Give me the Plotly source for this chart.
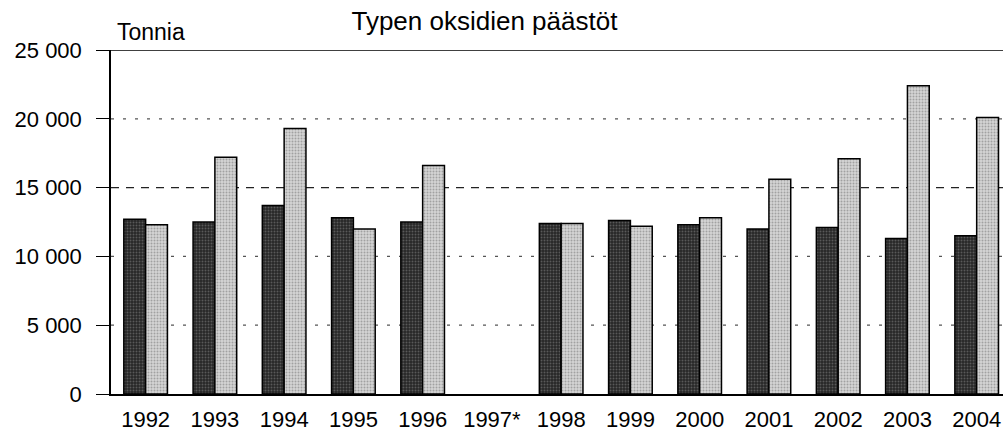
import plotly.graph_objects as go

# Nitrogen oxide emissions, tonnes per year (two source groups)
years = ["1992", "1993", "1994", "1995", "1996", "1997*", "1998",
         "1999", "2000", "2001", "2002", "2003", "2004"]
series_a = [12700, 12500, 13700, 12800, 12500, None, 12400,
            12600, 12300, 12000, 12100, 11300, 11500]
series_b = [12300, 17200, 19300, 12000, 16600, None, 12400,
            12200, 12800, 15600, 17100, 22400, 20100]

y_tick_values = [0, 5000, 10000, 15000, 20000, 25000]
y_tick_labels = ["0", "5 000", "10 000", "15 000", "20 000", "25 000"]

FONT = "Arial, Liberation Sans, sans-serif"

fig = go.Figure()
fig.add_trace(go.Bar(
    x=years, y=series_a, name="A",
    marker=dict(color="#262626",
                line=dict(color="#000000", width=1.5),
                pattern=dict(shape=".", fgcolor="#8c8c8c", bgcolor="#262626",
                             size=3, solidity=0.35)),
))
fig.add_trace(go.Bar(
    x=years, y=series_b, name="B",
    marker=dict(color="#c4c4c4",
                line=dict(color="#000000", width=1.5),
                pattern=dict(shape=".", fgcolor="#6e6e6e", bgcolor="#d4d4d4",
                             size=3, solidity=0.35)),
))

# Horizontal reference lines: dotted, with the 15 000 line dashed
shapes = []
for v in y_tick_values[1:-1]:
    dash = "8px,7px" if v == 15000 else "3px,9px"
    color = "#222222" if v == 15000 else "#555555"
    shapes.append(dict(type="line", xref="paper", yref="y", x0=0, x1=1,
                       y0=v, y1=v, layer="below",
                       line=dict(color=color, width=1.2, dash=dash)))
# Frame line along the top
shapes.append(dict(type="line", xref="paper", yref="y", x0=0, x1=1,
                   y0=y_tick_values[-1], y1=y_tick_values[-1],
                   line=dict(color="#000000", width=1.5)))

fig.update_layout(
    width=1003, height=431,
    margin=dict(l=111, r=0, t=50, b=37, autoexpand=False),
    paper_bgcolor="white", plot_bgcolor="white",
    barmode="group", bargap=0.37, bargroupgap=0,
    showlegend=False,
    font=dict(family=FONT, size=22, color="#000000"),
    title=dict(text="Typen oksidien päästöt", xref="container", yref="container",
               x=0.483, xanchor="center", y=0.951, yanchor="middle",
               font=dict(family=FONT, size=26, color="#000000")),
    shapes=shapes,
    annotations=[dict(text="Tonnia", xref="paper", yref="paper",
                      x=0.004, xanchor="left", y=1.051, yanchor="middle",
                      showarrow=False, font=dict(family=FONT, size=23))],
    xaxis=dict(type="category", range=[-0.5, 12.38], showgrid=False,
               showline=True, linecolor="#000000", linewidth=1.5,
               ticks="", tickfont=dict(family=FONT, size=22),
               automargin=False, ticklabelstandoff=5),
    yaxis=dict(range=[0, 25000], tickvals=y_tick_values, ticktext=y_tick_labels,
               showgrid=False, zeroline=False,
               showline=True, linecolor="#000000", linewidth=1.5,
               ticks="outside", ticklen=13, tickwidth=1.2, tickcolor="#000000",
               tickfont=dict(family=FONT, size=22),
               automargin=False, ticklabelstandoff=10),
)

fig.write_html("out.html")
